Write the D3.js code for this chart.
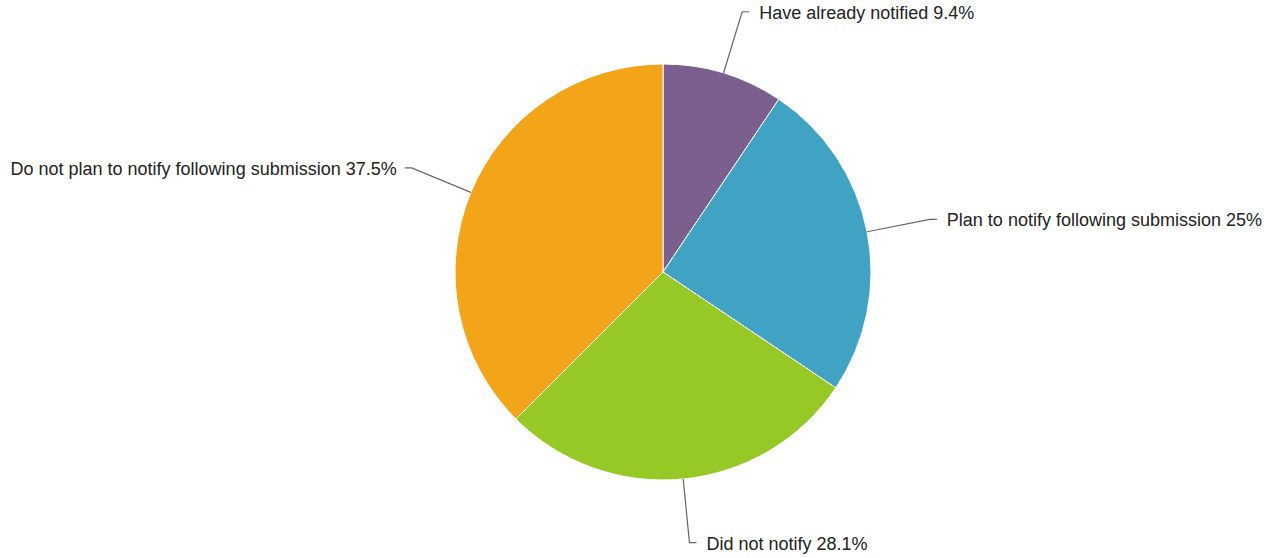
<!DOCTYPE html>
<html>
<head>
<meta charset="utf-8">
<script src="https://cdn.jsdelivr.net/npm/d3@7"></script>
<style>
  body { margin: 0; background: #fff; }
  text { font-family: "Liberation Sans", Arial, sans-serif; font-size: 18px; fill: #222; }
</style>
</head>
<body>
<div class="svg-container"></div>
<script>
const labels = ['Have already notified', 'Plan to notify following submission', 'Did not notify', 'Do not plan to notify following submission']
const values = [9.4, 25, 28.1, 37.5]
const colors = ['#7b5f8f', '#40a3c3', '#97c926', '#f4a418']

const width = 1275, height = 558
const cx = 663, cy = 272
const radius = 208
const labelRadius = 272

const data = labels.map((l, i) => ({ label: l, value: values[i], color: colors[i] }))

const svg = d3.select('.svg-container').append('svg')
    .attr('width', width)
    .attr('height', height)

const graph = svg.append('g')
    .attr('transform', `translate(${cx},${cy})`)

const pie = d3.pie().value(d => d.value).sort(null)
const arc = d3.arc().innerRadius(0).outerRadius(radius)

const arcs = pie(data)

graph.selectAll('path')
    .data(arcs)
    .enter()
    .append('path')
    .attr('d', arc)
    .style('fill', d => d.data.color)
    .style('stroke', '#fff')
    .style('stroke-width', 1)

// connectors + labels
const pt = (a, r) => [r * Math.sin(a), -r * Math.cos(a)]

arcs.forEach(d => {
    const mid = (d.startAngle + d.endAngle) / 2
    const right = Math.sin(mid) >= 0
    const p0 = pt(mid, radius)
    const p1 = pt(mid, labelRadius)
    const p2 = [p1[0] + (right ? 7 : -7), p1[1]]
    graph.append('path')
        .attr('d', d3.line()([p0, p1, p2]))
        .style('fill', 'none')
        .style('stroke', '#666')
        .style('stroke-width', 1.2)
    graph.append('text')
        .attr('x', p2[0] + (right ? 10 : -8))
        .attr('y', p2[1] + 7)
        .attr('text-anchor', right ? 'start' : 'end')
        .text(`${d.data.label} ${d.data.value}%`)
})
</script>
</body>
</html>
